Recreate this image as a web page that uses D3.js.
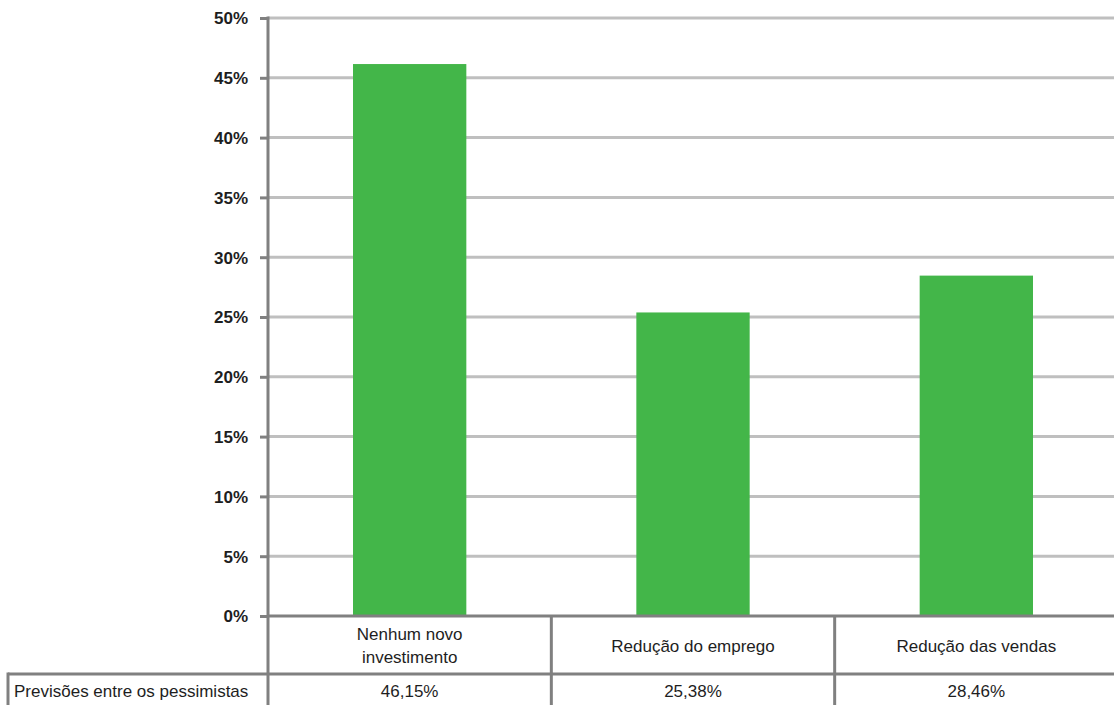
<!DOCTYPE html>
<html><head><meta charset="utf-8">
<script src="https://cdn.jsdelivr.net/npm/d3@7"></script>
<style>body{margin:0;background:#fff}svg{display:block}</style>
</head><body>
<svg id="c" width="1114" height="705"></svg>
<script>
const categories = ["Nenhum novo investimento", "Redução do emprego", "Redução das vendas"];
const categoryLines = [["Nenhum novo", "investimento"], ["Redução do emprego"], ["Redução das vendas"]];
const values = [46.15, 25.38, 28.46];
const valueLabels = ["46,15%", "25,38%", "28,46%"];
const seriesName = "Previsões entre os pessimistas";
const yTicks = [0, 5, 10, 15, 20, 25, 30, 35, 40, 45, 50];

(function () {
const svg = d3.select("#c");
const pl = 268, pr = 1118, pt = 18, pb = 616;
const x = d3.scaleBand().domain(categories).range([pl, pr]).paddingInner(0).paddingOuter(0);
const y = d3.scaleLinear().domain([0, 50]).range([pb, pt]);
const font = "'Liberation Sans', Arial, sans-serif";
const txt = "#1e1e1e";

// gridlines
svg.append("g").selectAll("line").data(yTicks.filter(d => d > 0)).join("line")
  .attr("x1", pl).attr("x2", 1114).attr("y1", d => y(d)).attr("y2", d => y(d))
  .attr("stroke", "#bfbfbf").attr("stroke-width", 3);

// bars
const bw = x.bandwidth() * 0.40;
svg.append("g").selectAll("rect").data(values).join("rect")
  .attr("x", (d, i) => x(categories[i]) + x.bandwidth() / 2 - bw / 2)
  .attr("width", bw)
  .attr("y", d => y(d)).attr("height", d => y(0) - y(d))
  .attr("fill", "#43b649");

// y axis
const yAxis = d3.axisLeft(y).tickValues(yTicks).tickFormat(d => d + "%").tickSize(8).tickPadding(12);
const ga = svg.append("g").attr("transform", `translate(${pl},0)`).call(yAxis);
ga.select(".domain").attr("stroke", "#808080").attr("stroke-width", 3).attr("d", `M0,${pt - 1.5}V${705}`);
ga.selectAll(".tick line").attr("stroke", "#808080").attr("stroke-width", 3);
ga.selectAll(".tick text").attr("fill", txt).attr("font-family", font)
  .attr("font-size", 17).attr("font-weight", "bold").attr("dy", "0.35em");

// table lines
const gray = "#808080";
const tbl = svg.append("g");
const row1 = 674;
tbl.append("line").attr("x1", pl).attr("x2", 1114).attr("y1", pb).attr("y2", pb).attr("stroke", gray).attr("stroke-width", 3);
tbl.append("line").attr("x1", 8).attr("x2", 1114).attr("y1", row1).attr("y2", row1).attr("stroke", gray).attr("stroke-width", 3);
tbl.append("line").attr("x1", 8).attr("x2", 8).attr("y1", row1 - 1.5).attr("y2", 705).attr("stroke", gray).attr("stroke-width", 3);
categories.slice(1).forEach(c => {
  tbl.append("line").attr("x1", x(c)).attr("x2", x(c)).attr("y1", pb).attr("y2", 705).attr("stroke", gray).attr("stroke-width", 3);
});

// category labels
categories.forEach((c, i) => {
  const lines = categoryLines[i];
  const cy = (pb + row1) / 2 + 1;
  const lh = 23;
  const t = tbl.append("text").attr("text-anchor", "middle").attr("font-family", font).attr("font-size", 17).attr("fill", txt);
  lines.forEach((l, j) => {
    t.append("tspan").attr("x", x(c) + x.bandwidth() / 2)
      .attr("y", cy + (j - (lines.length - 1) / 2) * lh).attr("dy", "0.35em").text(l);
  });
});
// values row
valueLabels.forEach((v, i) => {
  tbl.append("text").attr("x", x(categories[i]) + x.bandwidth() / 2).attr("y", 691).attr("dy", "0.35em")
    .attr("text-anchor", "middle").attr("font-family", font).attr("font-size", 17).attr("fill", txt).text(v);
});
tbl.append("text").attr("x", 14).attr("y", 691).attr("dy", "0.35em")
  .attr("font-family", font).attr("font-size", 17).attr("fill", txt).text(seriesName);
})();
</script>
</body></html>
